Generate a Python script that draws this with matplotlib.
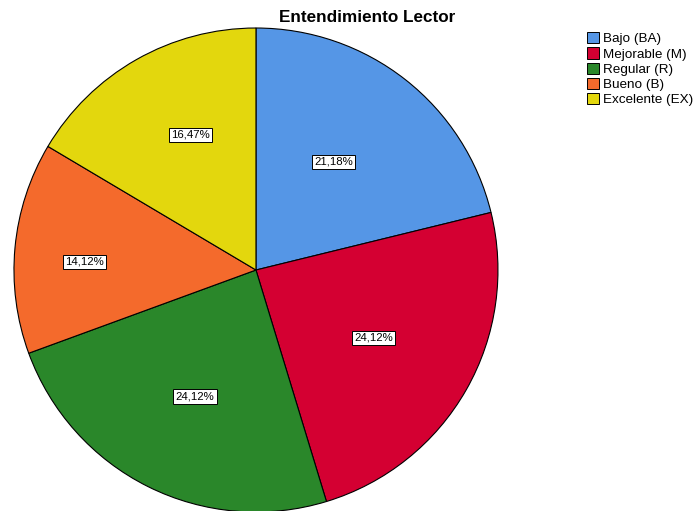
import numpy as np
import matplotlib.pyplot as plt
from matplotlib.patches import Patch

plt.rcParams['font.family'] = ['Liberation Sans', 'DejaVu Sans']

categories = ['Bajo (BA)', 'Mejorable (M)', 'Regular (R)', 'Bueno (B)', 'Excelente (EX)']
percentages = [21.18, 24.12, 24.12, 14.12, 16.47]
colors = ['#5596E6', '#D40032', '#2A872A', '#F46A2C', '#E3D70D']
# posicion de cada etiqueta: distancia al centro (fraccion del radio) y giro en grados
label_radius = [0.55, 0.56, 0.58, 0.71, 0.62]
label_shift = [2.5, -0.4, 0.7, 2.6, -3.8]

fig = plt.figure(figsize=(6.95, 5.11), dpi=100)
ax = fig.add_axes([0.0201, -0.002, 0.6964, 0.9472])

wedges, texts = ax.pie(percentages, colors=colors, startangle=90, counterclock=False,
                       wedgeprops=dict(edgecolor='black', linewidth=0.8), radius=1.0)

# etiquetas con coma decimal
for w, p, r, s in zip(wedges, percentages, label_radius, label_shift):
    ang = np.deg2rad((w.theta1 + w.theta2) / 2 + s)
    ax.text(r * np.cos(ang), r * np.sin(ang), f"{p:.2f}%".replace('.', ','),
            ha='center', va='center', fontsize=8.2,
            bbox=dict(boxstyle='square,pad=0.2', facecolor='white', edgecolor='black', linewidth=0.7))

ax.set_xlim(-1, 1)
ax.set_ylim(-1, 1)
ax.set_aspect('equal')
ax.axis('off')

fig.text(0.528, 0.966, 'Entendimiento Lector', ha='center', va='center',
         fontsize=12.3, fontweight='bold')

handles = [Patch(facecolor=c, edgecolor='black', linewidth=0.7, label=l) for c, l in zip(colors, categories)]
fig.legend(handles=handles, loc='upper left', bbox_to_anchor=(0.845, 0.937), frameon=False,
           fontsize=9.7, handlelength=0.9, handleheight=0.9, handletextpad=0.3,
           labelspacing=0.15, borderpad=0, borderaxespad=0)

fig.savefig('out.png', dpi=100)
